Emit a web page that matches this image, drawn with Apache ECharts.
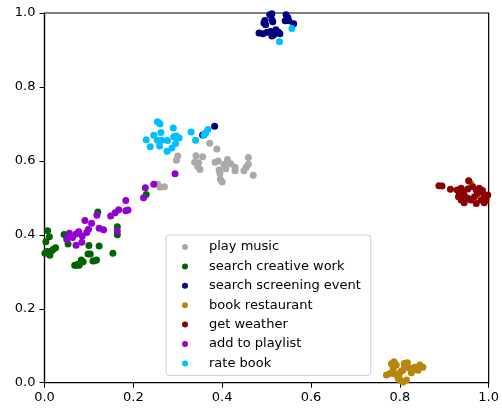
<!DOCTYPE html>
<html>
<head>
<meta charset="utf-8">
<script src="https://cdn.jsdelivr.net/npm/echarts@6/dist/echarts.min.js"></script>
<style>
  html, body { margin: 0; padding: 0; background: #fff; }
  #main { width: 502px; height: 409px; }
</style>
</head>
<body>
<div id="main"></div>
<script>
// series names, in drawing order
var names = ['play music', 'search creative work', 'search screening event',
             'book restaurant', 'get weather', 'add to playlist', 'rate book'];
var colors = ['#a9a9a9', '#006400', '#000080', '#b8860b', '#8b0000', '#9400d3', '#00bfff'];

var playMusic = [[0.255,0.537],[0.260,0.529],[0.270,0.530],[0.300,0.613],[0.297,0.602],[0.341,0.614],
  [0.356,0.611],[0.338,0.596],[0.347,0.595],[0.350,0.577],[0.372,0.648],[0.388,0.632],[0.384,0.596],
  [0.391,0.600],[0.412,0.604],[0.419,0.592],[0.408,0.579],[0.393,0.575],[0.395,0.566],[0.429,0.583],
  [0.429,0.573],[0.396,0.550],[0.400,0.543],[0.449,0.573],[0.454,0.583],[0.459,0.591],[0.459,0.609],
  [0.470,0.561],[0.345,0.585],[0.404,0.590]];
var searchCreativeWork = [[0.007,0.411],[0.011,0.395],[0.003,0.381],[0.006,0.355],[0.009,0.352],
  [0.016,0.357],[0.020,0.361],[0.025,0.365],[0.001,0.350],[0.012,0.345],[0.044,0.401],[0.053,0.375],
  [0.068,0.318],[0.071,0.318],[0.076,0.321],[0.078,0.318],[0.083,0.327],[0.087,0.327],[0.083,0.332],
  [0.098,0.348],[0.103,0.348],[0.100,0.371],[0.123,0.370],[0.109,0.329],[0.117,0.332],[0.113,0.330],
  [0.154,0.350],[0.120,0.462],[0.164,0.422],[0.164,0.400],[0.229,0.509]];
var searchScreeningEvent = [[0.507,0.995],[0.512,0.998],[0.496,0.980],[0.494,0.973],[0.512,0.982],
  [0.514,0.976],[0.544,0.995],[0.548,0.988],[0.542,0.979],[0.561,0.971],[0.483,0.946],[0.492,0.944],
  [0.501,0.948],[0.509,0.950],[0.516,0.941],[0.527,0.948],[0.530,0.944],[0.521,0.955],[0.498,0.968],
  [0.512,0.938],[0.550,0.979],[0.383,0.694],[0.356,0.670]];
var bookRestaurant = [[0.781,0.051],[0.787,0.057],[0.792,0.048],[0.785,0.039],[0.778,0.025],[0.770,0.021],
  [0.789,0.024],[0.798,0.018],[0.796,0.012],[0.802,0.030],[0.807,0.034],[0.811,0.043],[0.810,0.052],
  [0.817,0.054],[0.822,0.039],[0.826,0.027],[0.826,0.030],[0.833,0.042],[0.845,0.048],[0.852,0.042],
  [0.839,0.036],[0.841,0.034],[0.800,0.007],[0.815,0.007],[0.807,0.002],[0.960,0.539]];
var getWeather = [[0.888,0.533],[0.895,0.532],[0.914,0.523],[0.955,0.546],[0.938,0.526],[0.934,0.512],
  [0.932,0.503],[0.938,0.494],[0.945,0.508],[0.953,0.524],[0.964,0.530],[0.972,0.521],[0.975,0.512],
  [0.968,0.503],[0.960,0.494],[0.983,0.494],[0.990,0.508],[0.994,0.494],[0.979,0.526],[0.953,0.499],
  [0.942,0.517],[0.929,0.521],[0.945,0.487],[0.972,0.485],[0.990,0.487],[0.998,0.508],[0.986,0.520]];
var addToPlaylist = [[0.246,0.537],[0.227,0.527],[0.223,0.500],[0.294,0.565],[0.183,0.493],[0.167,0.468],
  [0.159,0.460],[0.149,0.451],[0.183,0.465],[0.188,0.467],[0.118,0.453],[0.106,0.431],[0.091,0.439],
  [0.123,0.418],[0.133,0.414],[0.099,0.415],[0.095,0.406],[0.077,0.408],[0.071,0.402],[0.056,0.404],
  [0.063,0.393],[0.050,0.388],[0.085,0.397],[0.084,0.380],[0.071,0.372],[0.164,0.410]];
var rateBook = [[0.257,0.704],[0.260,0.700],[0.254,0.706],[0.290,0.689],[0.330,0.678],[0.368,0.685],
  [0.363,0.676],[0.359,0.670],[0.262,0.677],[0.246,0.669],[0.229,0.657],[0.254,0.656],[0.264,0.656],
  [0.277,0.655],[0.291,0.665],[0.297,0.667],[0.303,0.662],[0.295,0.647],[0.287,0.635],[0.276,0.626],
  [0.259,0.640],[0.238,0.638],[0.340,0.656],[0.557,0.958],[0.529,0.922]];

var allData = [playMusic, searchCreativeWork, searchScreeningEvent, bookRestaurant,
               getWeather, addToPlaylist, rateBook];

var font = 'DejaVu Sans';

var series = [];
for (var i = 0; i < names.length; i++) {
    series.push({
        name: names[i],
        type: 'scatter',
        data: allData[i],
        symbol: 'circle',
        symbolSize: 7,
        itemStyle: { color: colors[i], opacity: 1 },
        emphasis: { disabled: true },
        z: 2 + i
    });
}

var myChart = echarts.init(document.getElementById('main'), null, { renderer: 'canvas' });
myChart.setOption({
    backgroundColor: '#ffffff',
    animation: false,
    grid: {
        left: 44.5, right: 11, top: 13, bottom: 26.3,
        show: true, borderColor: '#000', borderWidth: 1.2, backgroundColor: 'transparent'
    },
    xAxis: {
        type: 'value', min: 0, max: 1, interval: 0.2,
        splitLine: { show: false },
        axisLine: { show: true, onZero: false, lineStyle: { color: '#000', width: 1.2 } },
        axisTick: { show: true, length: 5, lineStyle: { color: '#000', width: 1 } },
        axisLabel: {
            margin: 8, color: '#000', fontFamily: font, fontSize: 13,
            formatter: function (v) { return v.toFixed(1); }
        }
    },
    yAxis: {
        type: 'value', min: 0, max: 1, interval: 0.2,
        splitLine: { show: false },
        axisLine: { show: true, onZero: false, lineStyle: { color: '#000', width: 1.2 } },
        axisTick: { show: true, length: 5, lineStyle: { color: '#000', width: 1 } },
        axisLabel: {
            margin: 9, color: '#000', fontFamily: font, fontSize: 13,
            formatter: function (v) { return v.toFixed(1); }
        }
    },
    legend: {
        data: names,
        orient: 'vertical',
        left: 166, top: 235,
        padding: [5, 10, 5, 16],
        itemWidth: 6, itemHeight: 6,
        itemGap: 5.4,
        icon: 'circle',
        backgroundColor: 'rgba(255,255,255,0.8)',
        borderColor: '#cccccc', borderWidth: 1, borderRadius: 3,
        selectedMode: false,
        textStyle: {
            color: '#000', fontFamily: font, fontSize: 13, lineHeight: 14,
            padding: [0, 0, 0, 16]
        }
    },
    series: series
});
</script>
</body>
</html>
